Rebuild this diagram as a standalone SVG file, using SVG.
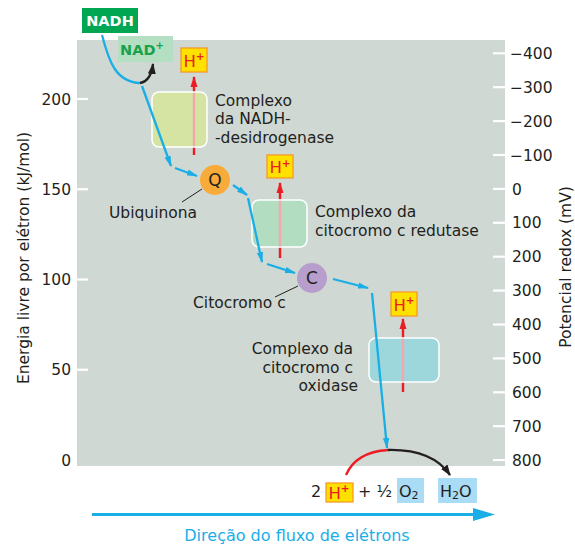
<svg xmlns="http://www.w3.org/2000/svg" width="575" height="545" viewBox="0 0 575 545">
<style>
text{font-family:"DejaVu Sans","Liberation Sans",sans-serif;font-size:15.5px;fill:#231f20}
.tick{stroke:#fff;stroke-width:2.2}
.blue{fill:none;stroke:#19aee6;stroke-width:2.3;marker-end:url(#ab)}
.red{fill:none;stroke:#ec1c24;stroke-width:2.4;marker-end:url(#ar)}
.pink{fill:none;stroke:#f4a6ac;stroke-width:2.4}
.blk{fill:none;stroke:#231f20;stroke-width:2.3;marker-end:url(#ak)}
.cx{stroke:#fff;stroke-width:1.5}
.hbox{fill:#ffe100;stroke:#f7941d;stroke-width:1.2}
.h{fill:#ec1c24;text-anchor:middle;font-size:16.5px}
.sup{font-size:10.5px;font-weight:bold;fill:#ec1c24}
.ax{text-anchor:end}
.lead{stroke:#231f20;stroke-width:1}
.carrier{text-anchor:middle;font-size:17px}
</style>
<defs>
<marker id="ab" markerWidth="12" markerHeight="8" refX="10" refY="4" orient="auto" markerUnits="userSpaceOnUse"><path d="M0,0.8 L11,4 L0,7.2 z" fill="#19aee6"/></marker>
<marker id="ar" markerWidth="12" markerHeight="8" refX="10" refY="4" orient="auto" markerUnits="userSpaceOnUse"><path d="M0,0.5 L11,4 L0,7.5 z" fill="#ec1c24"/></marker>
<marker id="ak" markerWidth="12" markerHeight="9" refX="10" refY="4.5" orient="auto" markerUnits="userSpaceOnUse"><path d="M0,0.5 L11,4.5 L0,8.5 z" fill="#231f20"/></marker>
</defs>
<rect x="77" y="40" width="428" height="426" fill="#cfd8d3"/>
<g id="axes">
<line class="tick" x1="77" y1="99" x2="88" y2="99"/>
<line class="tick" x1="77" y1="189.25" x2="88" y2="189.25"/>
<line class="tick" x1="77" y1="279.5" x2="88" y2="279.5"/>
<line class="tick" x1="77" y1="369.75" x2="88" y2="369.75"/>
<text class="ax" x="71" y="104.6">200</text>
<text class="ax" x="71" y="194.8">150</text>
<text class="ax" x="71" y="285.1">100</text>
<text class="ax" x="71" y="375.3">50</text>
<text class="ax" x="71" y="465.6">0</text>
<g>
<line class="tick" x1="493" y1="53.3" x2="505" y2="53.3"/>
<line class="tick" x1="493" y1="87.2" x2="505" y2="87.2"/>
<line class="tick" x1="493" y1="121.1" x2="505" y2="121.1"/>
<line class="tick" x1="493" y1="155" x2="505" y2="155"/>
<line class="tick" x1="493" y1="188.9" x2="505" y2="188.9"/>
<line class="tick" x1="493" y1="222.8" x2="505" y2="222.8"/>
<line class="tick" x1="493" y1="256.7" x2="505" y2="256.7"/>
<line class="tick" x1="493" y1="290.6" x2="505" y2="290.6"/>
<line class="tick" x1="493" y1="324.5" x2="505" y2="324.5"/>
<line class="tick" x1="493" y1="358.4" x2="505" y2="358.4"/>
<line class="tick" x1="493" y1="392.3" x2="505" y2="392.3"/>
<line class="tick" x1="493" y1="426.2" x2="505" y2="426.2"/>
<line class="tick" x1="493" y1="460.1" x2="505" y2="460.1"/>
</g>
<text x="510" y="58.9">−400</text>
<text x="510" y="92.8">−300</text>
<text x="510" y="126.7">−200</text>
<text x="510" y="160.6">−100</text>
<text x="512" y="194.5">0</text>
<text x="512" y="228.4">100</text>
<text x="512" y="262.3">200</text>
<text x="512" y="296.2">300</text>
<text x="512" y="330.1">400</text>
<text x="512" y="364">500</text>
<text x="512" y="397.9">600</text>
<text x="512" y="431.8">700</text>
<text x="512" y="465.7">800</text>
<text transform="translate(28.5,258) rotate(-90)" text-anchor="middle">Energia livre por elétron (kJ/mol)</text>
<text transform="translate(570.5,267) rotate(-90)" text-anchor="middle">Potencial redox (mV)</text>
</g>
<g id="complex1">
<line class="red" x1="194" y1="155" x2="194" y2="77"/>
<rect class="cx" x="152" y="92" width="55" height="55" rx="7" fill="#d5e4a3"/>
<line class="pink" x1="194" y1="92.8" x2="194" y2="146.2"/>
<text x="215" y="105.6">Complexo</text>
<text x="215" y="124.1">da NADH-</text>
<text x="215" y="142.6">-desidrogenase</text>
</g>
<g id="complex3">
<line class="red" x1="280" y1="258" x2="280" y2="183"/>
<rect class="cx" x="252" y="200" width="55" height="47" rx="7" fill="#b3ddc1"/>
<line class="pink" x1="280" y1="200.8" x2="280" y2="246.2"/>
<text x="315" y="217.3">Complexo da</text>
<text x="315" y="235.8">citocromo c redutase</text>
</g>
<g id="complex4">
<line class="red" x1="403" y1="392" x2="403" y2="319"/>
<rect class="cx" x="369" y="338" width="70" height="44" rx="7" fill="#9dd7dc"/>
<line class="pink" x1="403" y1="338.8" x2="403" y2="381.2"/>
<text x="353" y="354.4" text-anchor="end">Complexo da</text>
<text x="353" y="372.9" text-anchor="end">citocromo c</text>
<text x="358" y="391.4" text-anchor="end">oxidase</text>
</g>
<g id="nadh">
<rect x="82" y="8" width="56" height="25" fill="#00a651"/>
<text x="110" y="26.3" text-anchor="middle" style="fill:#fff;font-weight:bold;font-size:14.5px">NADH</text>
</g>
<g id="nadplus">
<rect x="118" y="36" width="55" height="26" fill="#b5dfc3"/>
<text x="142" y="55" text-anchor="middle" style="fill:#1ba14b;font-weight:bold;font-size:14.5px">NAD<tspan dy="-6" style="font-size:10px;fill:#1ba14b">+</tspan></text>
</g>
<g id="hplus1">
<rect class="hbox" x="181" y="48" width="26" height="24"/>
<text class="h" x="194" y="66.5">H<tspan class="sup" dy="-6.5">+</tspan></text>
</g>
<g id="hplus2">
<rect class="hbox" x="267" y="155" width="26" height="23"/>
<text class="h" x="280" y="173">H<tspan class="sup" dy="-6.5">+</tspan></text>
</g>
<g id="hplus3">
<rect class="hbox" x="391" y="292" width="26" height="24"/>
<text class="h" x="404" y="310.5">H<tspan class="sup" dy="-6.5">+</tspan></text>
</g>
<g id="ubiquinona">
<circle cx="215" cy="180" r="15" fill="#f9ab3a"/>
<text class="carrier" x="215" y="186">Q</text>
<line class="lead" x1="202" y1="189" x2="182" y2="202"/>
<text x="109" y="217.6">Ubiquinona</text>
</g>
<g id="citocromo">
<circle cx="312" cy="278" r="15" fill="#b79ecd"/>
<text class="carrier" x="312" y="284">C</text>
<line class="lead" x1="298" y1="286" x2="275" y2="297"/>
<text x="193" y="308">Citocromo c</text>
</g>
<g id="equation">
<text x="311" y="496.5" style="font-size:16px">2</text>
<rect class="hbox" x="326" y="483" width="27" height="19"/>
<text class="h" x="339" y="498.5">H<tspan class="sup" dy="-6.5">+</tspan></text>
<text x="358" y="496.5" style="font-size:16px">+ ½</text>
<rect x="397" y="478" width="27" height="25" fill="#aadcf5"/>
<text x="399" y="497" style="font-size:16px">O<tspan dy="2" style="font-size:11px">2</tspan></text>
<rect x="438" y="478" width="39" height="25" fill="#aadcf5"/>
<text x="440" y="497" style="font-size:16px">H<tspan dy="2" style="font-size:11px">2</tspan><tspan dy="-2">O</tspan></text>
</g>
<g id="connectors">
<path d="M102,35 C109,62 116,82 140,83" fill="none" stroke="#19aee6" stroke-width="2.3"/>
<path class="blk" d="M140,83 Q151,81 153,64"/>
<path class="blue" d="M142,86 L171,166"/>
<path class="blue" d="M175,168 L197,176"/>
<path class="blue" d="M233,185 L247,195"/>
<path class="blue" d="M248,198 L262,262"/>
<path class="blue" d="M267,264 L295,273"/>
<path class="blue" d="M333,279 L368,288"/>
<path class="blue" d="M372,293 L387,448"/>
<path d="M346,475 Q356,452 388,450" fill="none" stroke="#ec1c24" stroke-width="2.3"/>
<path class="blk" d="M388,450 Q432,449 450,475"/>
<line x1="92" y1="514.5" x2="475" y2="514.5" stroke="#19aee6" stroke-width="3"/>
<polygon points="473,508 495,514.5 473,521" fill="#19aee6"/>
</g>
<text x="297" y="541" text-anchor="middle" style="fill:#1aaee6;font-size:16px">Direção do fluxo de elétrons</text>
</svg>
